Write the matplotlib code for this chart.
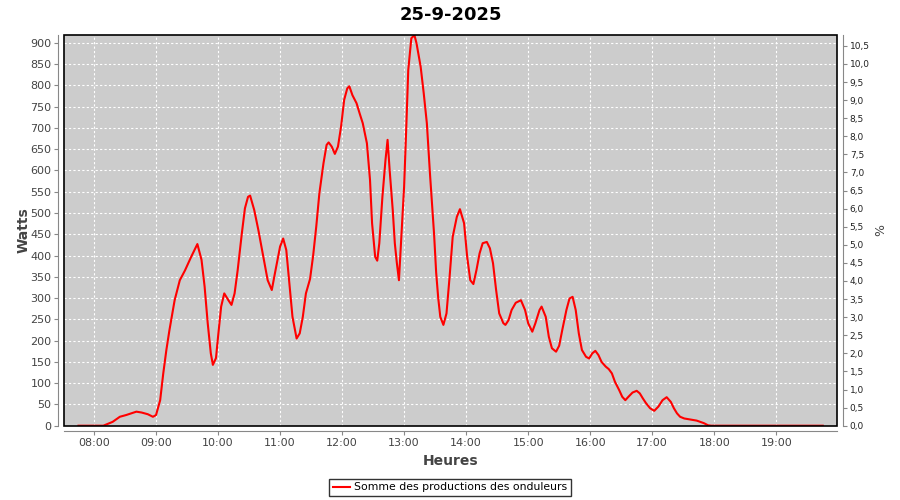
import matplotlib
matplotlib.use("Agg")
import matplotlib.pyplot as plt
from matplotlib.patches import Rectangle
from matplotlib.ticker import MultipleLocator, FuncFormatter

# heures (HH:MM) et puissance (W)
heures = ["07:45", "08:09", "08:18", "08:25", "08:31", "08:41", "08:46", "08:52", "08:57", "09:00",
          "09:04", "09:07", "09:10", "09:13", "09:18", "09:23", "09:28", "09:34", "09:40", "09:44",
          "09:47", "09:50", "09:53", "09:55", "09:58", "10:00", "10:03", "10:06", "10:10", "10:13",
          "10:16", "10:19", "10:23", "10:26", "10:29", "10:31", "10:35", "10:39", "10:42", "10:45",
          "10:48", "10:52", "10:55", "11:00", "11:03", "11:06", "11:09", "11:12", "11:16", "11:19",
          "11:22", "11:25", "11:29", "11:32", "11:35", "11:38", "11:42", "11:45", "11:47", "11:50",
          "11:53", "11:56", "11:59", "12:02", "12:05", "12:07", "12:10", "12:14", "12:17", "12:20",
          "12:24", "12:27", "12:29", "12:32", "12:34", "12:36", "12:39", "12:42", "12:44", "12:46",
          "12:49", "12:51", "12:53", "12:55", "12:57", "13:00", "13:02", "13:04", "13:07", "13:10",
          "13:12", "13:16", "13:19", "13:22", "13:25", "13:29", "13:31", "13:33", "13:35", "13:38",
          "13:41", "13:44", "13:47", "13:51", "13:54", "13:58", "14:01", "14:04", "14:07", "14:10",
          "14:13", "14:16", "14:20", "14:23", "14:26", "14:29", "14:32", "14:36", "14:38", "14:41",
          "14:44", "14:48", "14:53", "14:57", "15:00", "15:04", "15:07", "15:11", "15:13", "15:17",
          "15:20", "15:23", "15:27", "15:30", "15:33", "15:37", "15:40", "15:43", "15:46", "15:49",
          "15:52", "15:56", "15:59", "16:02", "16:05", "16:08", "16:11", "16:15", "16:18", "16:21",
          "16:24", "16:28", "16:31", "16:34", "16:37", "16:41", "16:45", "16:48", "16:51", "16:54",
          "16:58", "17:02", "17:06", "17:10", "17:14", "17:18", "17:21", "17:24", "17:27", "17:31",
          "17:36", "17:43", "17:50", "17:54", "17:57", "19:45"]
watts = [0, 0, 9, 21, 25, 33, 31, 27, 21, 25,
         60, 123, 178, 225, 295, 342, 365, 397, 427, 390,
         327, 241, 170, 143, 159, 209, 280, 311, 295, 284,
         311, 366, 452, 511, 538, 541, 507, 460, 421, 382,
         342, 319, 358, 421, 440, 413, 335, 256, 205, 217,
         256, 311, 345, 400, 468, 546, 617, 660, 666, 656,
         639, 656, 703, 766, 793, 798, 777, 758, 734, 711,
         664, 578, 476, 397, 388, 429, 538, 625, 672, 601,
         507, 429, 382, 342, 429, 562, 695, 836, 911, 918,
         899, 844, 781, 711, 593, 450, 360, 300, 256, 237,
         264, 350, 444, 491, 509, 476, 397, 342, 333, 366,
         405, 429, 432, 417, 382, 319, 264, 241, 237, 248,
         272, 289, 295, 272, 241, 221, 241, 272, 280, 256,
         209, 182, 174, 188, 225, 272, 299, 303, 272, 217,
         178, 162, 158, 170, 176, 166, 150, 139, 133, 123,
         103, 84, 68, 60, 68, 78, 82, 76, 64, 53,
         41, 35, 45, 60, 67, 56, 41, 29, 21, 17,
         15, 12, 6, 1, 0, 0]

tick_heures = list(range(8, 20))


def en_heures(s):
    h, m = s.split(":")
    return int(h) + int(m) / 60.0


x = [en_heures(h) for h in heures]

gris = "#444444"
gris_axe = "#888888"

fig = plt.figure(figsize=(9, 5), dpi=100)
ax = fig.add_axes([0.0711, 0.1486, 0.8592, 0.7814])
ax.set_facecolor("#cccccc")

ax.plot(x, watts, color="red", linewidth=1.5, label="Somme des productions des onduleurs", zorder=3)

ax.set_xlim(7.516, 19.984)
ax.set_ylim(0, 918.5)
ax.set_xticks(tick_heures)
ax.set_xticklabels(["%02d:00" % h for h in tick_heures])
ax.yaxis.set_major_locator(MultipleLocator(50))

ax.grid(True, color="white", linestyle=(0, (2, 2)), linewidth=0.8)
ax.set_axisbelow(True)

# axe de droite (%)
ax2 = ax.twinx()
ax2.set_ylim(0, 10.8)
ax2.yaxis.set_major_locator(MultipleLocator(0.5))
ax2.yaxis.set_major_formatter(FuncFormatter(lambda v, p: ("%.1f" % v).replace(".", ",")))
ax2.set_ylabel("%", fontsize=9, color=gris, labelpad=3)

for a in (ax, ax2):
    for s in a.spines.values():
        s.set_visible(False)

for side in ("left", "bottom"):
    ax.spines[side].set_visible(True)
    ax.spines[side].set_position(("outward", 4))
    ax.spines[side].set_color(gris_axe)
ax2.spines["right"].set_visible(True)
ax2.spines["right"].set_position(("outward", 4))
ax2.spines["right"].set_color(gris_axe)

ax.tick_params(axis="both", direction="out", length=3, color=gris_axe, labelcolor=gris, labelsize=8, pad=2)
ax2.tick_params(axis="y", direction="out", length=3, color=gris_axe, labelcolor="#222222", labelsize=6.5, pad=2)

# bord noir de la zone de tracé
ax2.add_patch(Rectangle((0, 0), 1, 1, transform=ax2.transAxes, fill=False,
                        edgecolor="black", linewidth=1.2, zorder=10, clip_on=False))

ax.set_title("25-9-2025", fontsize=13, fontweight="bold", pad=11)
ax.set_xlabel("Heures", fontsize=10, fontweight="bold", color=gris, labelpad=4)
ax.set_ylabel("Watts", fontsize=10, fontweight="bold", color=gris, labelpad=0)

leg = fig.legend(loc="center", bbox_to_anchor=(0.5, 0.025), fontsize=7.8, frameon=True,
                 fancybox=False, handlelength=1.6, handletextpad=0.3, borderpad=0.35)
leg.get_frame().set_edgecolor("black")
leg.get_frame().set_linewidth(1)

fig.savefig("out.png", dpi=100)
